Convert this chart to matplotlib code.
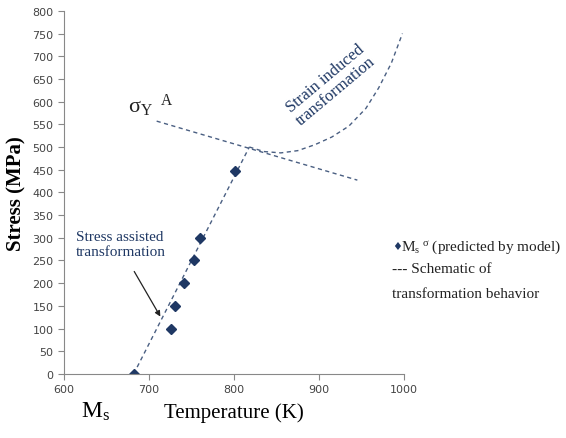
import matplotlib
matplotlib.use("Agg")
import matplotlib.pyplot as plt

plt.rcParams["mathtext.fontset"] = "custom"
plt.rcParams["mathtext.rm"] = "Liberation Serif"
plt.rcParams["mathtext.it"] = "Liberation Serif"

# model points
temp_pts = [682, 726, 730, 741, 753, 760, 801]
stress_pts = [0, 100, 150, 200, 250, 300, 448]

# schematic lines
assist_T = [682, 818]
assist_S = [0, 500]
yield_T = [709, 945]
yield_S = [557, 427]
strain_T = [818, 835, 855, 875, 895, 915, 935, 955, 970, 985, 998]
strain_S = [500, 490, 487, 492, 505, 522, 546, 585, 630, 685, 750]

navy = "#1f3864"
dash_col = "#4a5f82"

fig = plt.figure(figsize=(5.66, 4.39), dpi=100)
ax = fig.add_axes([0.113, 0.146, 0.601, 0.827])

ax.plot(assist_T, assist_S, ls=(0, (3, 2.5)), color=dash_col, lw=1)
ax.plot(yield_T, yield_S, ls=(0, (3, 2.5)), color=dash_col, lw=1)
ax.plot(strain_T, strain_S, ls=(0, (3, 2.5)), color=dash_col, lw=1)
ax.plot(temp_pts, stress_pts, ls="none", marker="D", ms=5.5, color=navy)

ax.set_xlim(600, 1000)
ax.set_ylim(0, 800)
ax.set_xticks([600, 700, 800, 900, 1000])
ax.set_yticks(range(0, 801, 50))
for s in ["top", "right"]:
    ax.spines[s].set_visible(False)
for s in ["left", "bottom"]:
    ax.spines[s].set_color("#888888")
ax.tick_params(colors="#888888", labelcolor="#444444", labelsize=8, length=4)

serif = "Liberation Serif"
ax.set_ylabel("Stress (MPa)", family=serif, fontsize=15, fontweight="bold", labelpad=4)
ax.set_xlabel("Temperature (K)", family=serif, fontsize=15, labelpad=6)

ax.text(675, 563, r"$\mathrm{\sigma_Y}^{\ \ \mathrm{A}}$", fontsize=16, color="#222222",
        ha="left", va="bottom")
ax.text(914, 638, "Strain induced\ntransformation", family=serif, fontsize=12,
        color=navy, rotation=40, ha="center", va="center", linespacing=1.0)
ax.text(614, 318, "Stress assisted\ntransformation", family=serif, fontsize=11,
        color=navy, ha="left", va="top", linespacing=1.2)
ax.annotate("", xy=(715, 121), xytext=(681, 231),
            arrowprops=dict(arrowstyle="-|>", color="#222222", lw=0.9,
                            mutation_scale=8))

fig.text(0.168, 0.048, r"$\mathrm{M_s}$", fontsize=17, ha="center")
fig.text(0.693, 0.437, "♦", fontsize=8, color=navy, va="center")
fig.text(0.708, 0.437, r"$\mathrm{M_s}^{\ \mathrm{\sigma}}$ (predicted by model)", family=serif,
         fontsize=11, color="#222222", va="center")
fig.text(0.693, 0.385, "--- Schematic of", family=serif, fontsize=11,
         color="#222222", va="center")
fig.text(0.693, 0.33, "transformation behavior", family=serif, fontsize=11,
         color="#222222", va="center")

fig.savefig("out.png", dpi=100)
